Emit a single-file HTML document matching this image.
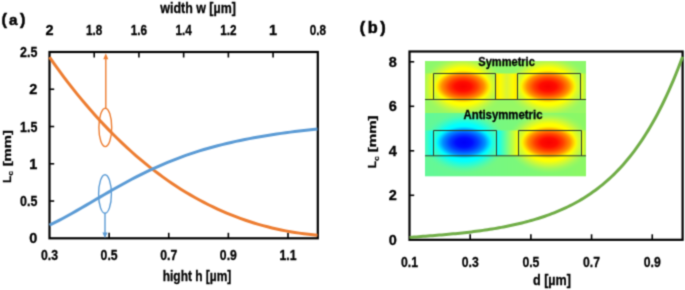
<!DOCTYPE html>
<html><head><meta charset="utf-8"><style>
html,body{margin:0;padding:0;background:#fff;}
svg{display:block;}
text{stroke:#000;stroke-width:0.3px;}
</style></head><body>
<svg width="685" height="290" viewBox="0 0 685 290" font-family="Liberation Sans" font-weight="bold" fill="#000">
<defs><filter id="soft" x="0" y="0" width="685" height="290" filterUnits="userSpaceOnUse" color-interpolation-filters="sRGB"><feConvolveMatrix order="3" kernelMatrix="0.0324 0.1152 0.0324 0.1152 0.4096 0.1152 0.0324 0.1152 0.0324" edgeMode="duplicate" preserveAlpha="true"/></filter></defs>
<g filter="url(#soft)">
<rect width="685" height="290" fill="#fff"/>
<rect x="49.5" y="52" width="268.3" height="186.3" fill="none" stroke="#000" stroke-width="2.2"/>
<text x="49.50" y="34.7" text-anchor="middle" font-size="14.5">2</text>
<line x1="94.22" y1="52" x2="94.22" y2="57.5" stroke="#000" stroke-width="1.6"/>
<text x="94.22" y="34.7" text-anchor="middle" font-size="14.5" textLength="16.3" lengthAdjust="spacingAndGlyphs">1.8</text>
<line x1="138.93" y1="52" x2="138.93" y2="57.5" stroke="#000" stroke-width="1.6"/>
<text x="138.93" y="34.7" text-anchor="middle" font-size="14.5" textLength="16.3" lengthAdjust="spacingAndGlyphs">1.6</text>
<line x1="183.65" y1="52" x2="183.65" y2="57.5" stroke="#000" stroke-width="1.6"/>
<text x="183.65" y="34.7" text-anchor="middle" font-size="14.5" textLength="16.3" lengthAdjust="spacingAndGlyphs">1.4</text>
<line x1="228.37" y1="52" x2="228.37" y2="57.5" stroke="#000" stroke-width="1.6"/>
<text x="228.37" y="34.7" text-anchor="middle" font-size="14.5" textLength="16.3" lengthAdjust="spacingAndGlyphs">1.2</text>
<line x1="273.08" y1="52" x2="273.08" y2="57.5" stroke="#000" stroke-width="1.6"/>
<text x="273.08" y="34.7" text-anchor="middle" font-size="14.5">1</text>
<text x="317.80" y="34.7" text-anchor="middle" font-size="14.5" textLength="16.3" lengthAdjust="spacingAndGlyphs">0.8</text>
<text x="49.50" y="260.2" text-anchor="middle" font-size="14.5" textLength="17" lengthAdjust="spacingAndGlyphs">0.3</text>
<line x1="109.12" y1="238.3" x2="109.12" y2="232.8" stroke="#000" stroke-width="1.6"/>
<text x="109.12" y="260.2" text-anchor="middle" font-size="14.5" textLength="17" lengthAdjust="spacingAndGlyphs">0.5</text>
<line x1="168.74" y1="238.3" x2="168.74" y2="232.8" stroke="#000" stroke-width="1.6"/>
<text x="168.74" y="260.2" text-anchor="middle" font-size="14.5" textLength="17" lengthAdjust="spacingAndGlyphs">0.7</text>
<line x1="228.37" y1="238.3" x2="228.37" y2="232.8" stroke="#000" stroke-width="1.6"/>
<text x="228.37" y="260.2" text-anchor="middle" font-size="14.5" textLength="17" lengthAdjust="spacingAndGlyphs">0.9</text>
<line x1="287.99" y1="238.3" x2="287.99" y2="232.8" stroke="#000" stroke-width="1.6"/>
<text x="287.99" y="260.2" text-anchor="middle" font-size="14.5" textLength="17" lengthAdjust="spacingAndGlyphs">1.1</text>
<text x="37.4" y="243.30" text-anchor="end" font-size="14.5">0</text>
<line x1="49.5" y1="201.04" x2="54.2" y2="201.04" stroke="#000" stroke-width="1.6"/>
<text x="37.4" y="206.04" text-anchor="end" font-size="14.5" textLength="17.3" lengthAdjust="spacingAndGlyphs">0.5</text>
<line x1="49.5" y1="163.78" x2="54.2" y2="163.78" stroke="#000" stroke-width="1.6"/>
<text x="37.4" y="168.78" text-anchor="end" font-size="14.5">1</text>
<line x1="49.5" y1="126.52" x2="54.2" y2="126.52" stroke="#000" stroke-width="1.6"/>
<text x="37.4" y="131.52" text-anchor="end" font-size="14.5" textLength="17.3" lengthAdjust="spacingAndGlyphs">1.5</text>
<line x1="49.5" y1="89.26" x2="54.2" y2="89.26" stroke="#000" stroke-width="1.6"/>
<text x="37.4" y="94.26" text-anchor="end" font-size="14.5">2</text>
<text x="37.4" y="57.00" text-anchor="end" font-size="14.5" textLength="17.3" lengthAdjust="spacingAndGlyphs">2.5</text>
<text x="198.1" y="13.1" text-anchor="middle" font-size="14.5" textLength="75.5" lengthAdjust="spacingAndGlyphs">width w [µm]</text>
<text x="197" y="281.3" text-anchor="middle" font-size="14.5" textLength="68.5" lengthAdjust="spacingAndGlyphs">hight h [µm]</text>
<text y="24.8" font-size="16.3" style="stroke-width:0.5px"><tspan x="1.5">(</tspan><tspan x="9.1" font-size="15.2">a</tspan><tspan x="19.9">)</tspan></text>
<text transform="translate(10.5,183) rotate(-90)" font-size="11.2"><tspan x="0.3" y="0">L</tspan><tspan x="7.5" y="2.5" font-size="8" style="stroke-width:0.2px">c</tspan><tspan x="16.7" y="0" textLength="36.2" lengthAdjust="spacingAndGlyphs">[mm]</tspan></text>
<path d="M49.50,57.18 L54.04,63.62 L58.58,69.91 L63.13,76.05 L67.67,82.04 L72.21,87.89 L76.75,93.59 L81.30,99.15 L85.84,104.57 L90.38,109.85 L94.92,115.00 L99.47,120.01 L104.01,124.89 L108.55,129.64 L113.09,134.27 L117.64,138.76 L122.18,143.13 L126.72,147.38 L131.26,151.51 L135.81,155.52 L140.35,159.41 L144.89,163.18 L149.43,166.84 L153.97,170.39 L158.52,173.82 L163.06,177.15 L167.60,180.37 L172.14,183.48 L176.69,186.48 L181.23,189.39 L185.77,192.19 L190.31,194.89 L194.86,197.49 L199.40,200.00 L203.94,202.41 L208.48,204.72 L213.03,206.94 L217.57,209.07 L222.11,211.11 L226.65,213.06 L231.19,214.92 L235.74,216.70 L240.28,218.39 L244.82,219.99 L249.36,221.52 L253.91,222.96 L258.45,224.32 L262.99,225.60 L267.53,226.80 L272.08,227.93 L276.62,228.98 L281.16,229.96 L285.70,230.86 L290.25,231.69 L294.79,232.45 L299.33,233.14 L303.87,233.77 L308.42,234.32 L312.96,234.81 L317.50,235.23" fill="none" stroke="#ed7d31" stroke-width="3"/>
<path d="M49.50,225.12 L54.04,222.92 L58.58,220.62 L63.13,218.23 L67.67,215.75 L72.21,213.22 L76.75,210.63 L81.30,208.01 L85.84,205.36 L90.38,202.70 L94.92,200.03 L99.47,197.37 L104.01,194.73 L108.55,192.11 L113.09,189.51 L117.64,186.95 L122.18,184.44 L126.72,181.97 L131.26,179.55 L135.81,177.19 L140.35,174.88 L144.89,172.64 L149.43,170.46 L153.97,168.35 L158.52,166.30 L163.06,164.32 L167.60,162.41 L172.14,160.57 L176.69,158.80 L181.23,157.09 L185.77,155.45 L190.31,153.88 L194.86,152.37 L199.40,150.93 L203.94,149.55 L208.48,148.22 L213.03,146.96 L217.57,145.75 L222.11,144.59 L226.65,143.48 L231.19,142.42 L235.74,141.41 L240.28,140.44 L244.82,139.51 L249.36,138.63 L253.91,137.78 L258.45,136.96 L262.99,136.18 L267.53,135.43 L272.08,134.71 L276.62,134.02 L281.16,133.36 L285.70,132.73 L290.25,132.12 L294.79,131.54 L299.33,130.99 L303.87,130.47 L308.42,129.98 L312.96,129.52 L317.50,129.10" fill="none" stroke="#5b9bd5" stroke-width="3"/>
<ellipse cx="105.3" cy="127.4" rx="6.4" ry="19.2" fill="none" stroke="#ed7d31" stroke-width="1.4"/>
<line x1="105.8" y1="108.2" x2="105.8" y2="58" stroke="#ed7d31" stroke-width="1.4"/>
<path d="M105.8,53.3 L103.3,59.2 L108.3,59.2 Z" fill="#ed7d31"/>
<ellipse cx="105" cy="194" rx="6.4" ry="19.3" fill="none" stroke="#5b9bd5" stroke-width="1.4"/>
<line x1="105" y1="213.3" x2="105" y2="233.5" stroke="#5b9bd5" stroke-width="1.4"/>
<path d="M105,238.3 L102.4,232.6 L107.6,232.6 Z" fill="#5b9bd5"/>
<defs>
<radialGradient id="rin"><stop offset="0" stop-color="#f80000"/><stop offset="0.28" stop-color="#ff0c00"/><stop offset="0.5" stop-color="#ff4000"/><stop offset="0.74" stop-color="#ff9000"/><stop offset="0.9" stop-color="#ffe400"/><stop offset="1" stop-color="#ffff00" stop-opacity="0"/></radialGradient>
<radialGradient id="rhalo"><stop offset="0" stop-color="#ffff00"/><stop offset="0.6" stop-color="#ffff00"/><stop offset="0.76" stop-color="#d0f838" stop-opacity="0.85"/><stop offset="1" stop-color="#a0f860" stop-opacity="0"/></radialGradient>
<radialGradient id="bin"><stop offset="0" stop-color="#0000f8"/><stop offset="0.28" stop-color="#000cff"/><stop offset="0.5" stop-color="#0040ff"/><stop offset="0.74" stop-color="#0090ff"/><stop offset="0.9" stop-color="#00e4ff"/><stop offset="1" stop-color="#00ffff" stop-opacity="0"/></radialGradient>
<radialGradient id="bhalo"><stop offset="0" stop-color="#00ffff"/><stop offset="0.6" stop-color="#00ffff"/><stop offset="0.76" stop-color="#30fcd0" stop-opacity="0.85"/><stop offset="1" stop-color="#60f8a0" stop-opacity="0"/></radialGradient>
<linearGradient id="botbg" x1="0" y1="0" x2="1" y2="0"><stop offset="0" stop-color="#62f898"/><stop offset="0.5" stop-color="#78f87e"/><stop offset="1" stop-color="#8cf864"/></linearGradient>
<linearGradient id="topbg" x1="0" y1="0" x2="0" y2="1"><stop offset="0" stop-color="#8cf86c"/><stop offset="1" stop-color="#98f864"/></linearGradient>
<linearGradient id="gapY" x1="0" y1="0" x2="1" y2="0"><stop offset="0" stop-color="#ffe400"/><stop offset="0.2" stop-color="#fcfc00"/><stop offset="0.5" stop-color="#dcf434"/><stop offset="0.8" stop-color="#fcfc00"/><stop offset="1" stop-color="#ffe400"/></linearGradient>
<linearGradient id="edgeYL" x1="0" y1="0" x2="1" y2="0"><stop offset="0" stop-color="#d8f830" stop-opacity="0.3"/><stop offset="1" stop-color="#f8fc08" stop-opacity="0.9"/></linearGradient>
<linearGradient id="edgeYR" x1="1" y1="0" x2="0" y2="0"><stop offset="0" stop-color="#d8f830" stop-opacity="0.3"/><stop offset="1" stop-color="#f8fc08" stop-opacity="0.9"/></linearGradient>
<linearGradient id="edgeCL" x1="0" y1="0" x2="1" y2="0"><stop offset="0" stop-color="#40fcc8" stop-opacity="0.6"/><stop offset="1" stop-color="#00ffff"/></linearGradient>
<linearGradient id="gapCY" x1="0" y1="0" x2="1" y2="0"><stop offset="0" stop-color="#00ffff"/><stop offset="0.5" stop-color="#80ff80"/><stop offset="1" stop-color="#ffff00"/></linearGradient>
<clipPath id="cliptop"><rect x="425" y="61" width="161" height="52.4"/></clipPath>
<clipPath id="clipbot"><rect x="425" y="113" width="161" height="63.6"/></clipPath>
</defs>
<g clip-path="url(#cliptop)">
<rect x="425" y="61" width="161" height="53" fill="url(#topbg)"/>
<ellipse cx="463" cy="86.5" rx="42" ry="31" fill="url(#rhalo)"/>
<ellipse cx="548" cy="86.5" rx="42" ry="31" fill="url(#rhalo)"/>
<rect x="496" y="73.5" width="21.5" height="26" fill="url(#gapY)"/>
<rect x="425" y="73.5" width="8.5" height="26" fill="url(#edgeYL)"/>
<rect x="580.5" y="73.5" width="5.5" height="26" fill="url(#edgeYR)"/>
<ellipse cx="463" cy="86.5" rx="28.5" ry="16.8" fill="url(#rin)"/>
<ellipse cx="548" cy="86.5" rx="28.5" ry="16.8" fill="url(#rin)"/>
</g>
<g clip-path="url(#clipbot)">
<rect x="425" y="113" width="161" height="63.6" fill="url(#botbg)"/>
<ellipse cx="464" cy="142.5" rx="42" ry="31" fill="url(#bhalo)"/>
<ellipse cx="549" cy="142.5" rx="42" ry="31" fill="url(#rhalo)"/>
<rect x="497" y="130.5" width="21.5" height="25.3" fill="url(#gapCY)"/>
<rect x="425" y="130.5" width="8.5" height="25.3" fill="url(#edgeCL)"/>
<rect x="581.5" y="130.5" width="4.5" height="25.3" fill="url(#edgeYR)"/>
<ellipse cx="464" cy="142.5" rx="28.5" ry="16.8" fill="url(#bin)"/>
<ellipse cx="549" cy="142.5" rx="28.5" ry="16.8" fill="url(#rin)"/>
</g>
<path d="M425,99.5 H586 M433.5,99.5 V73.5 H495.5 V99.5 M517.5,99.5 V73.5 H580.5 V99.5" fill="none" stroke="#2e3a2a" stroke-width="1"/>
<path d="M425,155.8 H586 M433.5,155.8 V130.5 H496.5 V155.8 M518.5,155.8 V130.5 H581.5 V155.8" fill="none" stroke="#2e3a2a" stroke-width="1"/>
<text x="506.6" y="65.6" text-anchor="middle" font-size="12.3" textLength="56.5" lengthAdjust="spacingAndGlyphs">Symmetric</text>
<text x="503" y="118.6" text-anchor="middle" font-size="12.3" textLength="79" lengthAdjust="spacingAndGlyphs">Antisymmetric</text>
<rect x="409.5" y="51.5" width="273.10" height="188.30" fill="none" stroke="#000" stroke-width="2.2"/>
<text x="396.8" y="244.80" text-anchor="end" font-size="14.5">0</text>
<line x1="409.5" y1="195.30" x2="414.2" y2="195.30" stroke="#000" stroke-width="1.6"/>
<text x="396.8" y="200.30" text-anchor="end" font-size="14.5">2</text>
<line x1="409.5" y1="150.80" x2="414.2" y2="150.80" stroke="#000" stroke-width="1.6"/>
<text x="396.8" y="155.80" text-anchor="end" font-size="14.5">4</text>
<line x1="409.5" y1="106.30" x2="414.2" y2="106.30" stroke="#000" stroke-width="1.6"/>
<text x="396.8" y="111.30" text-anchor="end" font-size="14.5">6</text>
<line x1="409.5" y1="61.80" x2="414.2" y2="61.80" stroke="#000" stroke-width="1.6"/>
<text x="396.8" y="66.80" text-anchor="end" font-size="14.5">8</text>
<text x="409.50" y="266.9" text-anchor="middle" font-size="14.5" textLength="17" lengthAdjust="spacingAndGlyphs">0.1</text>
<line x1="470.19" y1="239.8" x2="470.19" y2="234.3" stroke="#000" stroke-width="1.6"/>
<text x="470.19" y="266.9" text-anchor="middle" font-size="14.5" textLength="17" lengthAdjust="spacingAndGlyphs">0.3</text>
<line x1="530.88" y1="239.8" x2="530.88" y2="234.3" stroke="#000" stroke-width="1.6"/>
<text x="530.88" y="266.9" text-anchor="middle" font-size="14.5" textLength="17" lengthAdjust="spacingAndGlyphs">0.5</text>
<line x1="591.57" y1="239.8" x2="591.57" y2="234.3" stroke="#000" stroke-width="1.6"/>
<text x="591.57" y="266.9" text-anchor="middle" font-size="14.5" textLength="17" lengthAdjust="spacingAndGlyphs">0.7</text>
<line x1="652.26" y1="239.8" x2="652.26" y2="234.3" stroke="#000" stroke-width="1.6"/>
<text x="652.26" y="266.9" text-anchor="middle" font-size="14.5" textLength="17" lengthAdjust="spacingAndGlyphs">0.9</text>
<text x="552" y="284.7" text-anchor="middle" font-size="14.5" textLength="38" lengthAdjust="spacingAndGlyphs">d [µm]</text>
<text x="359.7" y="33" font-size="16.3" letter-spacing="2.6" style="stroke-width:0.55px">(b)</text>
<text transform="translate(376.4,168.3) rotate(-90)" font-size="11.2"><tspan x="0.3" y="0">L</tspan><tspan x="7.5" y="2.5" font-size="8" style="stroke-width:0.2px">c</tspan><tspan x="16.0" y="0" textLength="36.9" lengthAdjust="spacingAndGlyphs">[mm]</tspan></text>
<path d="M409.50,237.47 L411.79,237.28 L414.09,237.09 L416.38,236.90 L418.68,236.72 L420.97,236.54 L423.27,236.36 L425.56,236.18 L427.86,236.00 L430.15,235.82 L432.45,235.64 L434.74,235.45 L437.04,235.27 L439.33,235.08 L441.63,234.89 L443.92,234.69 L446.22,234.49 L448.51,234.29 L450.81,234.08 L453.10,233.86 L455.40,233.64 L457.69,233.41 L459.99,233.18 L462.28,232.94 L464.58,232.69 L466.87,232.43 L469.17,232.16 L471.46,231.89 L473.76,231.61 L476.05,231.32 L478.35,231.02 L480.64,230.70 L482.94,230.38 L485.23,230.05 L487.53,229.71 L489.82,229.35 L492.12,228.99 L494.41,228.61 L496.71,228.21 L499.00,227.81 L501.30,227.39 L503.59,226.96 L505.89,226.52 L508.18,226.05 L510.48,225.58 L512.77,225.09 L515.07,224.58 L517.36,224.05 L519.66,223.51 L521.95,222.95 L524.25,222.37 L526.54,221.77 L528.84,221.16 L531.13,220.52 L533.43,219.86 L535.72,219.17 L538.02,218.47 L540.31,217.74 L542.61,216.98 L544.90,216.21 L547.20,215.40 L549.49,214.57 L551.79,213.70 L554.08,212.81 L556.38,211.89 L558.67,210.93 L560.97,209.95 L563.26,208.92 L565.56,207.87 L567.85,206.77 L570.15,205.64 L572.44,204.47 L574.74,203.25 L577.03,202.00 L579.33,200.69 L581.62,199.35 L583.92,197.95 L586.21,196.51 L588.51,195.01 L590.80,193.46 L593.10,191.85 L595.39,190.19 L597.69,188.47 L599.98,186.69 L602.28,184.84 L604.57,182.92 L606.87,180.94 L609.16,178.89 L611.46,176.76 L613.75,174.55 L616.05,172.27 L618.34,169.91 L620.64,167.46 L622.93,164.92 L625.23,162.30 L627.52,159.58 L629.82,156.76 L632.11,153.84 L634.41,150.83 L636.70,147.70 L639.00,144.46 L641.29,141.11 L643.59,137.65 L645.88,134.06 L648.18,130.35 L650.47,126.51 L652.77,122.53 L655.06,118.42 L657.36,114.17 L659.65,109.77 L661.95,105.22 L664.24,100.52 L666.54,95.65 L668.83,90.63 L671.13,85.43 L673.42,80.06 L675.72,74.51 L678.01,68.78 L680.31,62.86 L682.60,56.74" fill="none" stroke="#70ad47" stroke-width="3"/>
</g>
</svg>
</body></html>
